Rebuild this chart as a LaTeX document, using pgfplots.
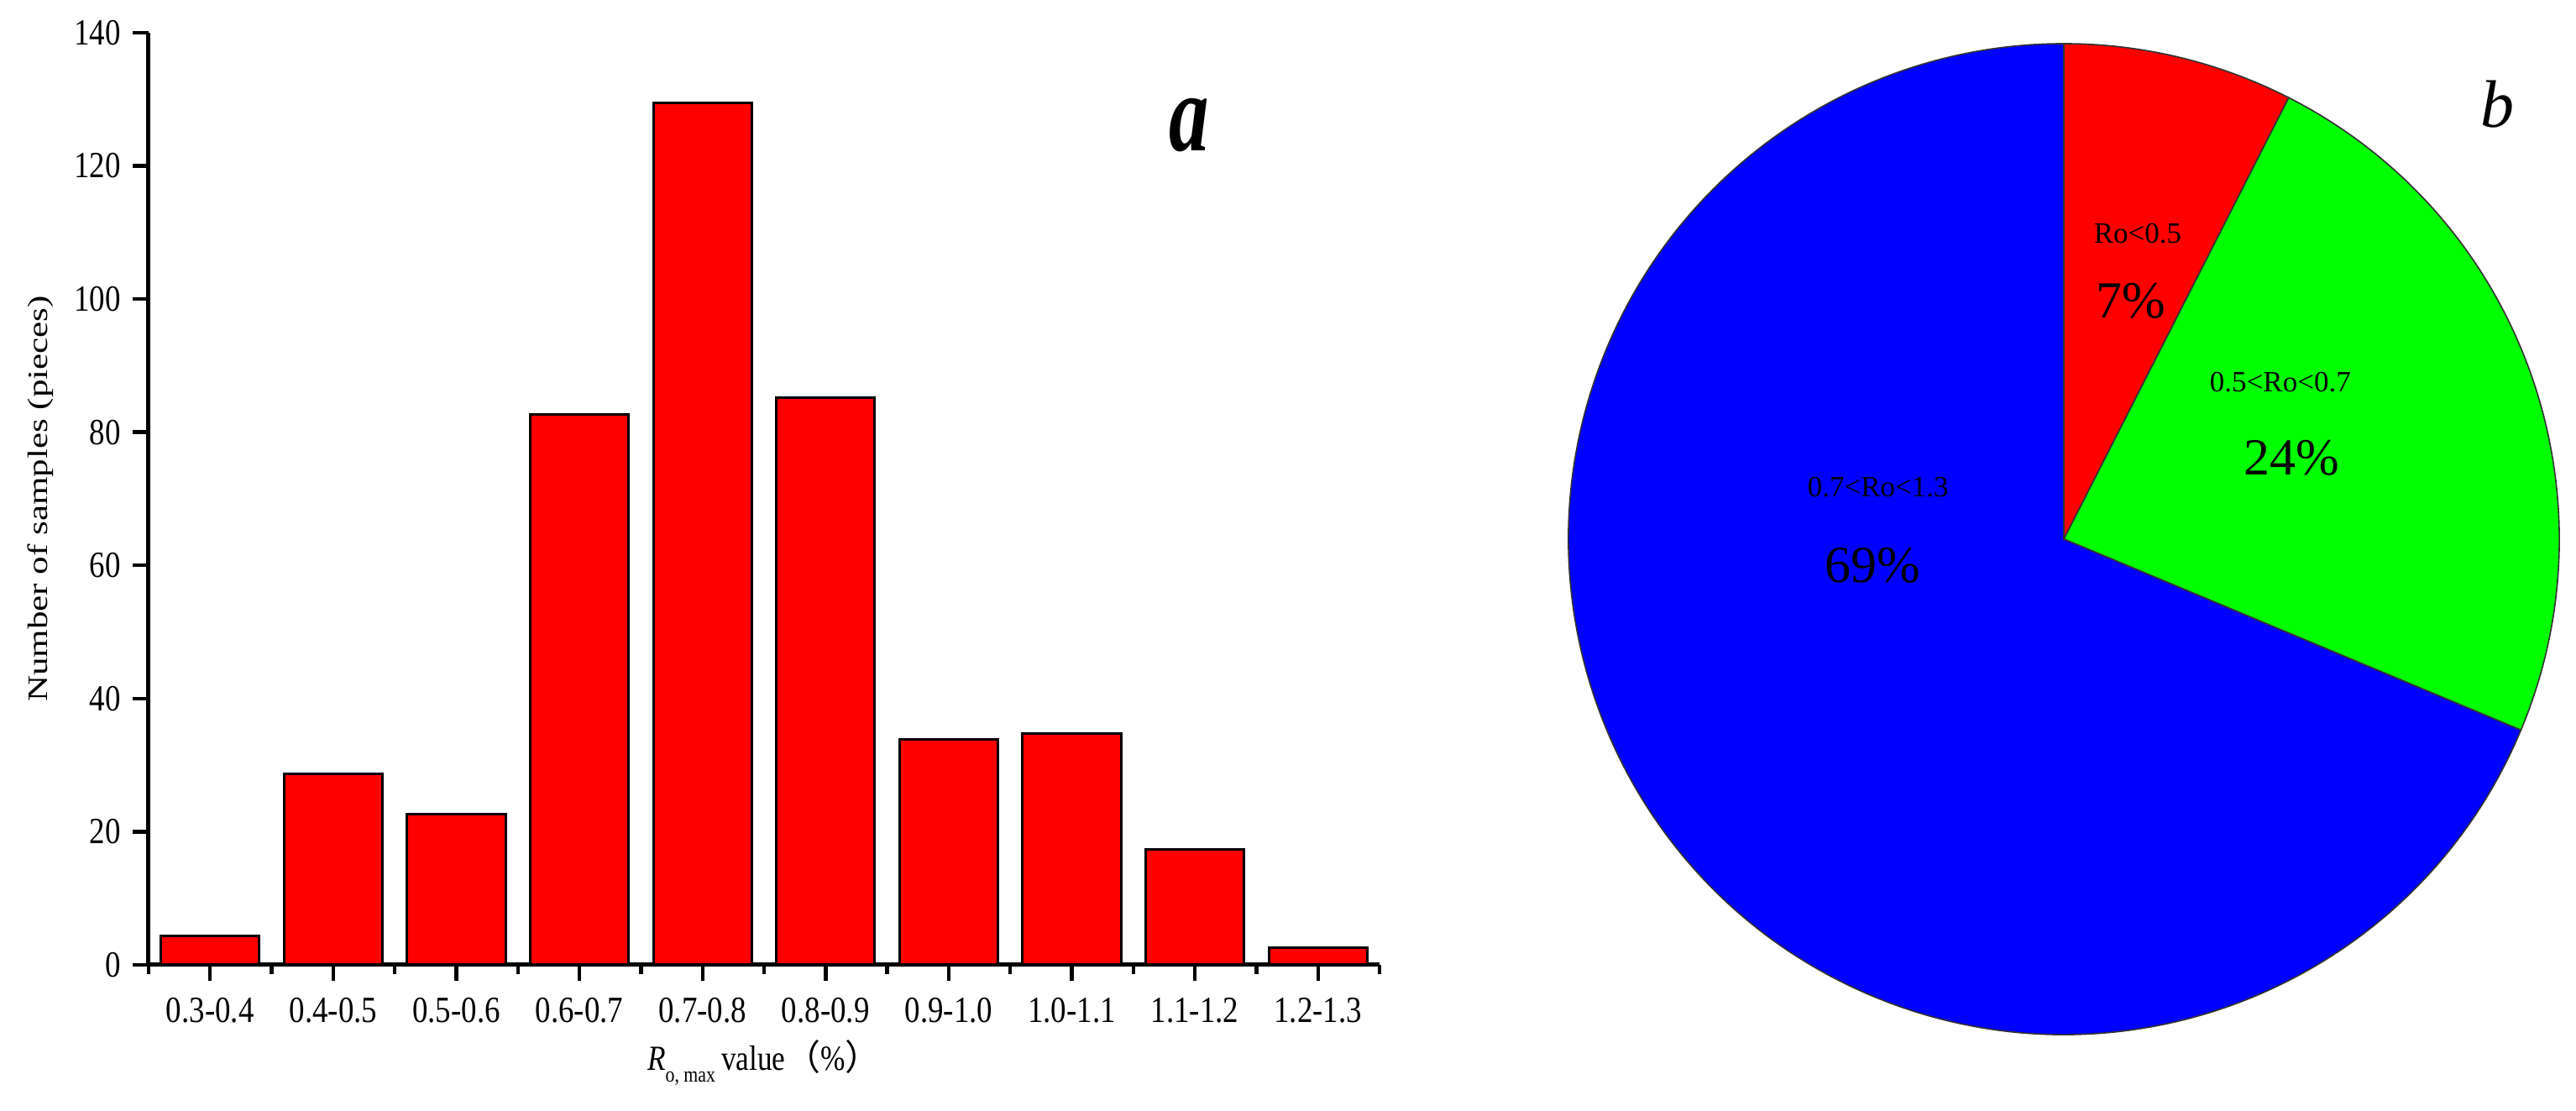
\documentclass[border=0pt]{standalone}
\usepackage{fontspec}
\setmainfont{Liberation Serif}
\newfontfamily\cond{Liberation Serif}[FakeStretch=0.84]
\newfontfamily\condx{Liberation Serif}[FakeStretch=0.72]
\newfontfamily\cjk{Noto Sans CJK SC}
\usepackage{graphicx}
\usepackage{pgfplots}
\usepackage{pgfplotstable}
\pgfplotsset{compat=1.18}

\definecolor{pred}{RGB}{255,0,0}
\definecolor{pgreen}{RGB}{0,255,0}
\definecolor{pblue}{RGB}{0,0,255}

% histogram of Ro,max classes
\pgfplotstableread{
cat count
0 4.4
1 28.7
2 22.7
3 82.7
4 129.5
5 85.2
6 33.9
7 34.8
8 17.4
9 2.6
}\bins

% pie shares (percent)
\def\pA{7.5}
\def\pB{23.8}
\def\pC{68.7}

\begin{document}
\begin{tikzpicture}
\useasboundingbox (0,0) rectangle (767pt,330.75pt);

\begin{axis}[
  at={(44.25pt,43.5pt)}, anchor=south west,
  scale only axis, width=366.5pt, height=277.5pt,
  xmin=-0.5, xmax=9.5, ymin=0, ymax=140,
  axis x line*=bottom, axis y line*=left,
  axis line style={line width=1.25pt},
  xtick={0,...,9},
  xticklabels={0.3-0.4,0.4-0.5,0.5-0.6,0.6-0.7,0.7-0.8,0.8-0.9,0.9-1.0,1.0-1.1,1.1-1.2,1.2-1.3},
  minor xtick={-0.5,0.5,...,9.5},
  ytick={0,20,...,140},
  tick align=outside,
  major tick length=4.75pt, minor tick length=2.75pt,
  every tick/.style={black, line width=1.1pt},
  tick label style={font=\cond\fontsize{11}{13}\selectfont},
  xticklabel style={yshift=-1.5pt},
  /pgf/number format/assume math mode=true,
  xlabel={\textit{R}\raisebox{-3.5pt}{\fontsize{6.5}{7}\selectfont o, max}\,value{\cjk （}\%{\cjk ）}},
  ylabel={\scalebox{1}[0.78]{Number of samples (pieces)}},
  every axis x label/.style={at={(axis description cs:0.5,0)}, anchor=base,
    yshift=-31.5pt, font=\cond\fontsize{10.5}{12}\selectfont},
  every axis y label/.style={at={(axis description cs:-0.088,0.5)}, anchor=center,
    rotate=90, font=\fontsize{10.75}{12}\selectfont},
  clip=false,
]
\addplot[ybar, bar width=0.8, fill=pred, draw=black, line width=0.75pt]
  table[x=cat, y=count] {\bins};
\node[anchor=base, font=\condx\bfseries\itshape\fontsize{33}{33}\selectfont]
  at (axis cs:7.95,122.3) {a};
\end{axis}

\begin{axis}[
  at={(614.5pt,170.25pt)}, anchor=center,
  scale only axis, width=295pt, height=295pt,
  xmin=-1, xmax=1, ymin=-1, ymax=1,
  hide axis, clip=false,
]
\fill[pred, draw=black!80, line width=0.4pt] (axis cs:0,0) -- (axis cs:0,1)
  arc[start angle=90, end angle={90-3.6*\pA}, radius=147.5pt] -- cycle;
\fill[pgreen, draw=black!80, line width=0.4pt] (axis cs:0,0) -- ({cos(90-3.6*\pA)},{sin(90-3.6*\pA)})
  arc[start angle={90-3.6*\pA}, end angle={90-3.6*(\pA+\pB)}, radius=147.5pt] -- cycle;
\fill[pblue, draw=black!80, line width=0.4pt] (axis cs:0,0) -- ({cos(90-3.6*(\pA+\pB))},{sin(90-3.6*(\pA+\pB))})
  arc[start angle={90-3.6*(\pA+\pB)}, end angle={90-3.6*(\pA+\pB+\pC)}, radius=147.5pt] -- cycle;

\node[anchor=base, font=\fontsize{8.75}{10}\selectfont] at (axis cs:0.149,0.598) {Ro<0.5};
\node[anchor=base, font=\fontsize{15.5}{17}\selectfont] at (axis cs:0.136,0.446) {7\%};
\node[anchor=base, font=\fontsize{8.75}{10}\selectfont] at (axis cs:0.437,0.297) {0.5<Ro<0.7};
\node[anchor=base, font=\fontsize{15.5}{17}\selectfont] at (axis cs:0.459,0.129) {24\%};
\node[anchor=base, font=\fontsize{8.75}{10}\selectfont] at (axis cs:-0.375,0.086) {0.7<Ro<1.3};
\node[anchor=base, font=\fontsize{15.5}{17}\selectfont] at (axis cs:-0.386,-0.088) {69\%};
\node[anchor=base, font=\itshape\fontsize{20}{22}\selectfont] at (axis cs:0.876,0.831) {b};
\end{axis}
\end{tikzpicture}
\end{document}
